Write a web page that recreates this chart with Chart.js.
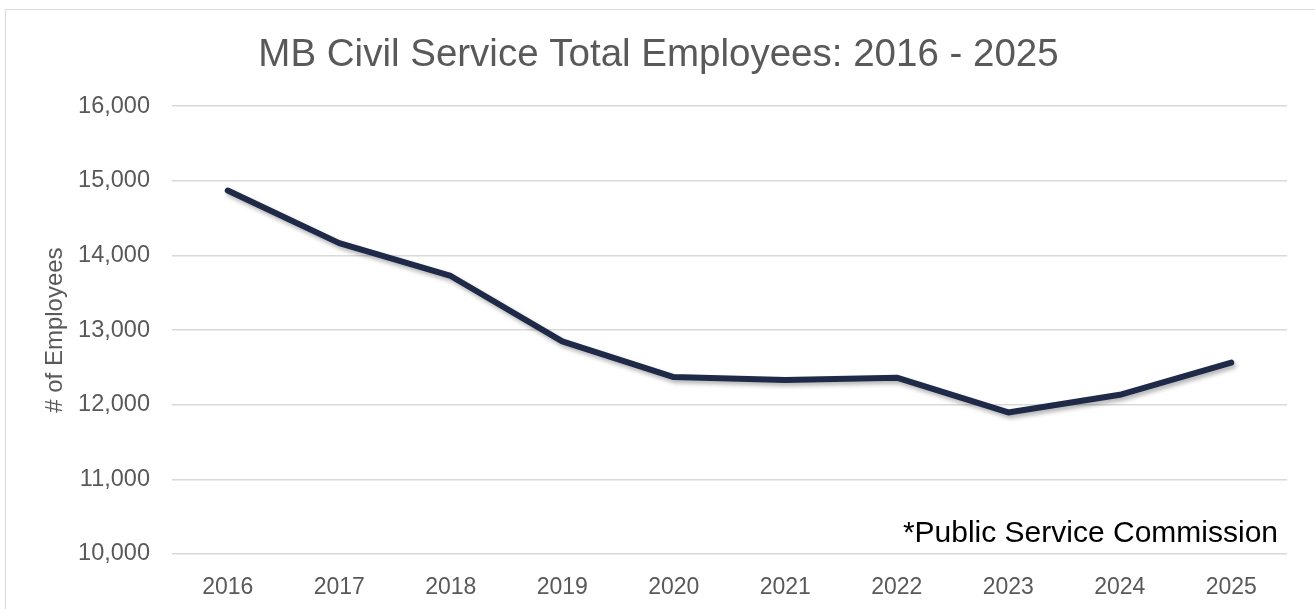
<!DOCTYPE html>
<html>
<head>
<meta charset="utf-8">
<script src="https://cdn.jsdelivr.net/npm/chart.js@4"></script>
<style>
  html, body { margin: 0; padding: 0; background: #fff; overflow: hidden; }
  #frame { position: absolute; left: 5px; top: 9px; width: 1400px; height: 700px; border: 1px solid #d9d9d9; }
  #wrap { position: absolute; left: 0; top: 0; width: 1315px; height: 609px; }
</style>
</head>
<body>
<div id="frame"></div>
<div id="wrap"><canvas id="empChart"></canvas></div>
<script>
// values
const years = ['2016', '2017', '2018', '2019', '2020', '2021', '2022', '2023', '2024', '2025'];
const employees = [14870, 14165, 13725, 12850, 12370, 12333, 12362, 11897, 12133, 12565];
const yMin = 10000;
const yMax = 16000;
const yStep = 1000;

const FONT = "'Liberation Sans', Arial, sans-serif";
const GREY = '#595959';

// soft drop shadow under the line
const lineShadow = {
  id: 'lineShadow',
  beforeDatasetsDraw(chart) {
    const c = chart.ctx;
    c.save();
    c.shadowColor = 'rgba(0,0,0,0.30)';
    c.shadowBlur = 4;
    c.shadowOffsetX = 2;
    c.shadowOffsetY = 3;
  },
  afterDatasetsDraw(chart) { chart.ctx.restore(); }
};

// source note inside the plot area
const sourceNote = {
  id: 'sourceNote',
  afterDraw(chart) {
    const c = chart.ctx, a = chart.chartArea;
    c.save();
    c.font = '30px ' + FONT;
    c.fillStyle = '#000';
    c.textAlign = 'right';
    c.textBaseline = 'alphabetic';
    c.fillText('*Public Service Commission', a.right - 9, a.bottom - 12);
    c.restore();
  }
};

document.addEventListener('DOMContentLoaded', function(){
  try {
    const ctx = document.getElementById('empChart');
    new Chart(ctx.getContext('2d'), {
      type: 'line',
      data: {
        labels: years,
        datasets: [{
          label: 'Total Employees',
          data: employees,
          borderColor: '#1f2a48',
          borderWidth: 6,
          borderCapStyle: 'round',
          borderJoinStyle: 'round',
          pointRadius: 0,
          tension: 0,
          fill: false
        }]
      },
      options: {
        responsive: true,
        maintainAspectRatio: false,
        animation: false,
        layout: { padding: { left: 30, right: 28, top: 0, bottom: 0 } },
        plugins: {
          legend: { display: false },
          tooltip: { enabled: false },
          title: {
            display: true,
            text: 'MB Civil Service Total Employees: 2016 - 2025',
            color: GREY,
            font: { family: FONT, size: 38.5, weight: 'normal' },
            padding: { top: 32, bottom: 28 }
          }
        },
        scales: {
          x: {
            offset: true,
            grid: { display: false, drawTicks: false },
            border: { display: false },
            ticks: { color: GREY, font: { family: FONT, size: 23 }, padding: 20, maxRotation: 0 },
            afterFit(s) { s.height = 55; }
          },
          y: {
            min: yMin,
            max: yMax,
            grid: { color: '#d9d9d9', lineWidth: 1.5, drawTicks: false },
            border: { display: false },
            ticks: {
              stepSize: yStep,
              color: GREY,
              font: { family: FONT, size: 23.5 },
              padding: 22,
              callback: v => v.toLocaleString('en-US')
            },
            title: {
              display: true,
              text: '# of Employees',
              color: GREY,
              font: { family: FONT, size: 24 },
              padding: { top: 11, bottom: 0 }
            },
            afterFit(s) { s.width = 142; }
          }
        }
      },
      plugins: [lineShadow, sourceNote]
    });
  } catch(e) { console.error(e); }
});
</script>
</body>
</html>
